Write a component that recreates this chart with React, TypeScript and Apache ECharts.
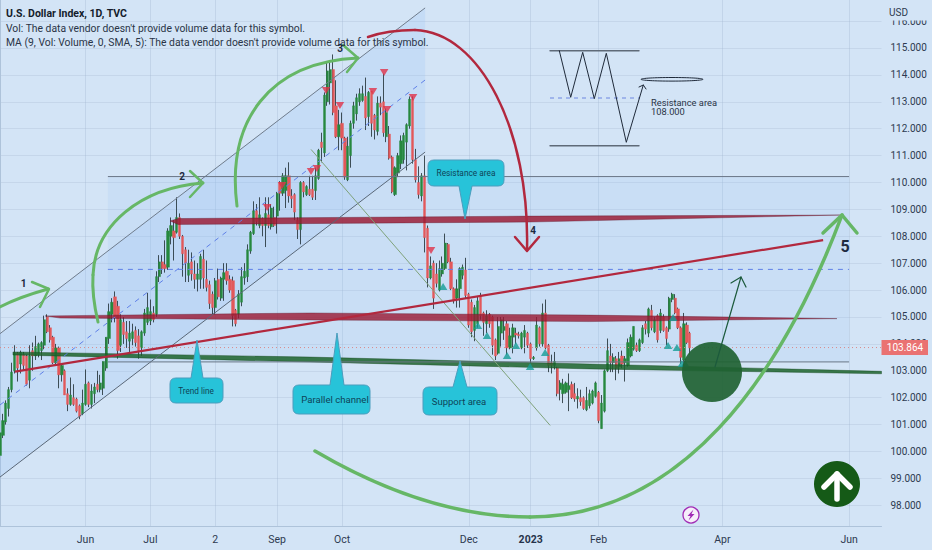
import React, { useEffect, useRef } from "react";
import * as echarts from "echarts";

// Daily candles as [open, close, low, high].
const barsA = [
[99.85,100.7,99.8,100.9],[100.6,101.15,100.5,101.4],[101.1,101.8,101.0,101.9],[101.6,102.3,101.3,102.4],[102.3,102.95,102.2,103.3],
[103.0,103.65,102.9,103.95],[103.65,103.1,102.6,103.7],[103.25,103.68,102.9,103.75],[103.6,103.2,103.0,103.7],[103.55,102.5,102.45,103.6],
[102.65,103.55,102.35,103.95],[103.75,103.55,103.0,104.05],[103.55,103.9,103.4,104.3],[103.6,104.0,103.5,104.05],[103.75,104.05,103.4,104.1],
[103.95,104.9,103.8,105.05],[105.0,104.45,104.4,105.1],[104.6,104.15,104.05,104.7],[104.25,103.3,103.25,104.3],[103.3,103.85,103.2,104.0],
[103.85,102.85,102.35,103.9],[102.85,103.2,102.6,103.25],[103.0,102.1,102.1,103.05],[102.15,101.75,101.5,102.35],[101.75,102.1,101.7,102.75],
[102.0,101.75,101.7,102.5],[101.95,101.5,101.45,102.0],[101.7,101.3,101.2,101.75],[101.4,101.8,101.35,102.3],[101.75,102.5,101.7,103.05],
[102.55,101.75,101.65,102.6],[101.75,102.25,101.6,102.5],[102.15,102.4,101.8,102.55],[102.5,102.3,102.2,103.0],[102.3,102.55,102.2,102.85],
[102.35,103.35,102.1,103.35],[103.1,104.25,103.0,104.25],[104.2,105.2,104.0,105.5],[105.1,105.55,104.8,105.7],[105.75,105.0,104.8,105.95],
[105.4,103.75,103.45,105.6],[103.95,104.9,103.7,105.1],[104.8,104.35,104.0,105.0],[104.45,104.2,103.85,104.85],[104.1,104.4,103.7,104.85],
[104.2,104.45,103.95,104.75],[104.5,104.05,103.9,104.65],[104.3,103.75,103.45,104.55],[103.85,104.45,103.55,104.5],[104.4,105.15,104.3,105.3],
];
const barsB = [
[104.8,105.35,104.7,105.9],[104.85,105.2,104.7,105.65],[105.15,104.9,104.8,105.4],[105.1,106.5,105.0,106.7],[106.5,107.05,106.3,107.3],
[107.05,106.8,106.6,107.3],[106.95,106.8,106.65,107.85],[106.85,108.2,106.75,108.3],[108.0,108.4,107.7,108.7],[108.2,107.95,107.1,108.6],
[108.15,108.7,108.1,109.45],[108.7,108.0,107.9,108.85],[108.0,107.35,106.5,108.05],[107.5,107.0,106.3,107.6],[106.55,107.0,106.3,107.5],
[107.05,106.6,106.35,107.4],[106.6,106.4,106.05,107.1],[106.4,106.6,105.95,107.0],[106.4,107.25,106.05,107.35],[107.15,106.45,106.05,107.5],
[106.4,106.1,105.95,107.1],[106.2,105.5,105.3,106.35],[105.85,105.35,105.1,105.95],[105.35,106.35,105.1,106.45],[106.4,105.75,105.65,106.8],
[105.7,106.45,105.6,106.5],[106.4,106.65,105.6,107.0],[106.7,106.35,106.2,107.0],[106.4,106.0,105.9,106.55],[106.35,105.05,104.65,106.5],
[105.25,104.75,104.65,105.3],[105.1,105.85,104.95,106.0],[105.55,106.5,105.4,106.85],[106.45,106.7,106.2,107.0],[106.5,107.5,106.3,107.7],
[107.45,108.15,107.35,108.2],[108.1,108.95,108.05,109.3],[108.95,108.55,108.4,109.2],[108.4,108.8,108.3,109.45],[108.65,108.4,108.0,108.7],
[108.4,108.85,107.6,109.45],[108.8,108.4,108.3,109.45],[108.35,109.05,108.25,109.2],[108.7,108.4,108.35,109.1],[108.75,109.6,108.1,109.65],
[110.0,109.6,108.95,110.05],[109.6,110.25,109.5,110.35],[109.7,110.25,109.05,110.55],[110.25,109.5,109.25,110.75],[109.5,109.4,109.05,109.75],
];
const barsC = [
[109.55,108.9,108.6,109.6],[108.6,108.25,107.9,108.7],[108.25,110.0,107.7,110.05],[110.0,109.65,109.45,110.05],[109.55,109.85,109.5,109.9],
[109.75,109.55,109.5,110.25],[109.75,109.45,109.35,110.25],[109.7,110.25,109.35,110.55],[110.15,111.2,110.1,111.25],[111.5,111.3,110.75,111.85],
[111.1,113.25,110.95,113.35],[113.0,114.15,112.85,114.45],[113.7,114.2,112.9,114.5],[114.2,112.6,112.5,114.76],[112.85,111.7,111.65,113.8],
[111.7,112.15,111.2,112.7],[112.2,111.65,111.2,112.6],[111.65,110.2,110.1,111.7],[110.1,111.35,110.05,111.7],[111.0,112.2,110.55,112.3],
[112.2,112.85,112.0,113.0],[112.55,113.15,112.3,113.3],[113.0,113.3,112.85,113.5],[113.05,113.3,113.0,113.6],[113.2,112.4,111.95,113.9],
[112.45,113.35,112.1,113.4],[113.4,112.2,111.7,113.4],[112.5,111.95,111.6,112.55],[111.9,112.95,111.75,113.2],[112.95,112.8,112.5,113.2],
[113.0,111.85,111.7,114.05],[111.7,112.6,111.5,112.75],[111.8,110.9,110.85,112.1],[110.95,109.65,109.6,111.0],[109.55,110.55,109.5,110.6],
[110.35,111.0,110.2,111.1],[110.7,111.55,110.5,111.75],[110.85,111.75,110.7,111.85],[111.5,112.15,110.45,112.2],[112.1,113.1,112.0,113.2],
[113.1,110.85,110.7,113.2],[110.85,110.1,110.0,111.25],[110.0,109.55,109.4,110.6],[109.5,110.25,109.3,110.35],[110.25,107.95,107.4,111.0],
[108.3,106.45,106.1,108.4],[106.45,106.9,106.4,107.25],[107.0,105.7,105.3,107.1],[106.6,106.25,106.1,107.0],[106.0,106.8,105.95,107.1],
];
const barsD = [
[106.6,107.0,106.5,107.25],[106.8,107.75,106.75,108.1],[107.7,107.05,107.0,107.75],[107.05,106.05,106.0,107.2],[106.05,105.6,105.5,106.1],
[105.7,106.05,105.35,106.4],[106.05,106.8,105.35,106.85],[106.55,106.85,106.4,106.95],[106.75,105.8,105.7,107.2],[105.85,104.7,104.6,105.9],
[105.55,104.45,104.25,105.65],[104.5,105.35,104.1,105.45],[104.75,105.6,104.6,105.75],[105.8,105.05,104.9,105.9],[105.15,104.8,104.3,105.2],
[104.75,105.05,104.4,105.25],[105.1,104.75,104.6,105.15],[105.0,103.95,103.6,105.05],[104.15,103.55,103.4,104.2],[103.65,104.65,103.6,105.0],
[104.4,104.9,103.9,105.0],[104.5,104.65,104.15,105.0],[104.75,103.85,103.6,104.85],[103.85,104.3,103.8,104.6],[104.25,104.6,103.65,104.75],
[104.4,104.33,104.0,104.6],[104.35,104.3,104.2,104.45],[103.85,104.4,103.8,104.45],[104.25,104.5,103.65,104.7],[104.4,103.95,103.85,104.45],
[104.0,103.45,103.3,104.05],[103.45,103.5,103.4,103.55],[103.85,104.7,103.75,105.0],[104.6,104.0,103.9,104.65],[104.0,105.15,103.9,105.5],
[105.15,103.85,103.8,105.65],[103.95,103.2,102.95,104.0],[103.3,103.2,102.9,103.6],[103.2,103.35,103.05,103.7],[103.1,102.15,102.05,103.15],
[102.3,102.55,101.9,102.65],[102.15,102.5,101.8,102.7],[102.2,102.55,102.15,102.6],[102.3,102.45,101.5,102.9],[102.5,102.0,101.95,102.6],
[102.15,101.95,101.85,102.55],[101.95,102.05,101.6,102.35],[102.0,101.85,101.7,102.3],[102.0,101.6,101.55,102.05],[101.55,101.9,101.5,102.4],
];
const barsE = [
[101.7,102.15,101.6,102.3],[101.8,102.25,101.75,102.3],[102.05,102.55,102.0,102.6],[102.2,101.15,101.05,102.25],[100.85,101.8,100.85,102.1],
[101.5,103.0,101.45,103.05],[103.0,103.75,102.95,104.2],[103.55,103.3,102.95,104.0],[103.3,103.5,102.95,103.65],[103.45,103.1,102.65,103.55],
[103.15,103.45,102.9,103.7],[103.55,103.25,103.1,103.75],[103.3,103.45,102.6,103.55],[103.2,104.05,103.15,104.2],[103.55,104.25,103.5,104.35],
[103.8,104.65,103.75,104.65],[103.95,103.75,103.7,104.05],[103.75,104.15,103.7,104.2],[104.05,104.6,104.0,104.7],[104.75,104.55,104.35,104.85],
[104.4,105.3,104.25,105.35],[105.25,104.6,104.5,105.45],[104.45,104.9,104.4,105.0],[105.05,104.15,104.05,105.1],[104.5,105.15,104.4,105.3],
[105.0,104.5,104.45,105.1],[104.6,104.2,103.95,104.65],[104.55,105.7,104.45,105.75],[105.65,105.85,105.55,105.9],[105.7,105.15,105.1,105.85],
[105.3,104.6,104.55,105.35],[104.6,103.5,103.25,104.65],[103.4,104.75,103.2,105.15],[104.7,104.05,104.0,104.8],[104.4,103.85,103.6,104.45],
];
const candles = [...barsA, ...barsB, ...barsC, ...barsD, ...barsE];

const barSlots = 300;
const lastPrice = 103.864;
const priceTicks = [98, 99, 100, 101, 102, 103, 104, 105, 106, 107, 108, 109, 110, 111, 112, 113, 114, 115, 116];
const timeTickBars = [29, 51, 73, 94, 116, 159, 180, 203, 245, 288];
const timeTickLabels = ["Jun", "Jul", "2", "Sep", "Oct", "Dec", "2023", "Feb", "Apr", "Jun"];

const sellSignals = [[90.6,109.07],[95.7,109.89],[105.5,110.41],[107.5,110.52],[110.6,113.42],[115.3,112.86],[126.5,113.38],[130.3,114.09],[131.3,112.71],[140.1,113.16],[146.2,107.47]];
const buySignals = [[150.3,106.13],[162.1,104.68],[165.2,104.31],[172,103.57],[175,103.94],[179.8,103.16],[184.9,103.68],[226.6,103.94],[228.3,104.98],[229.6,103.87],[231.3,103.27],[232.4,103.27]];

// Drawings in [bar, price]
const channelFill = [[0,104.38],[144.2,116.49],[144.2,111.13],[0,99.05]];
const channelUpper = [[0,104.38],[144.2,116.49]];
const channelMid = [[0,101.73],[144.2,113.81]];
const channelLower = [[0,99.05],[144.2,111.13]];
const fibFill = [[36.6,110.22],[288,110.22],[288,103.33],[36.6,103.33]];
const fibTop = [[36.6,110.22],[288,110.22]];
const fibMid = [[36.6,106.77],[288,106.77]];
const fibBottom = [[36.6,103.33],[288,103.33]];
const resistanceBand = [[57.7,108.57],[60.4,108.66],[179.8,108.75],[284.9,108.79],[179.8,108.53],[60.4,108.44]];
const midBand = [[15.3,105.04],[105.2,105.15],[200.1,105.07],[283.9,104.94],[200.1,104.83],[105.2,104.89],[20.4,104.96]];
const supportBand = [[4.4,103.70],[105.2,103.51],[200.1,103.25],[299,102.98],[299,102.89],[200.1,103.07],[105.2,103.33],[4.4,103.59]];
const trendLine = [[5.1,102.97],[279.2,107.86]];
const diagonalLine = [[105.5,111.23],[186.6,100.97]];
const lastPriceLine = [[0,lastPrice],[299,lastPrice]];

const callout = (x0: number, y0: number, x1: number, y1: number, tipX: number, tipY: number, b0: number, b1: number) => {
  const r = 6;
  if (tipY < y0) {
    return `M${x0 + r} ${y0}L${b0} ${y0}L${tipX} ${tipY}L${b1} ${y0}L${x1 - r} ${y0}Q${x1} ${y0} ${x1} ${y0 + r}L${x1} ${y1 - r}Q${x1} ${y1} ${x1 - r} ${y1}L${x0 + r} ${y1}Q${x0} ${y1} ${x0} ${y1 - r}L${x0} ${y0 + r}Q${x0} ${y0} ${x0 + r} ${y0}Z`;
  }
  return `M${x0 + r} ${y0}L${x1 - r} ${y0}Q${x1} ${y0} ${x1} ${y0 + r}L${x1} ${y1 - r}Q${x1} ${y1} ${x1 - r} ${y1}L${b1} ${y1}L${tipX} ${tipY}L${b0} ${y1}L${x0 + r} ${y1}Q${x0} ${y1} ${x0} ${y1 - r}L${x0} ${y0 + r}Q${x0} ${y0} ${x0 + r} ${y0}Z`;
};
echarts.graphic.registerShape("calloutTrend", echarts.graphic.extendPath(callout(170, 378, 223, 403, 197, 340, 191, 203), {}));
echarts.graphic.registerShape("calloutChannel", echarts.graphic.extendPath(callout(293, 385, 370, 414, 337, 333, 330, 344), {}));
echarts.graphic.registerShape("calloutSupport", echarts.graphic.extendPath(callout(423, 387, 497, 415, 460, 361, 453, 467), {}));
echarts.graphic.registerShape("calloutResistance", echarts.graphic.extendPath(callout(428, 160, 504, 186, 465, 219, 459, 472), {}));

const FONT = "Roboto, 'Noto Sans', sans-serif";
const BRUSH = "#66b766";
const CRED = "#b2283e";

const shape = (kind: string, pts: number[][], style: any, z: number) => ({
  type: "custom",
  coordinateSystem: "cartesian2d",
  xAxisIndex: 1,
  yAxisIndex: 0,
  silent: true,
  clip: true,
  z,
  data: [[pts[0][0], pts[0][1]]],
  renderItem: (_p: any, api: any) => ({
    type: kind,
    shape: { points: pts.map((pt) => api.coord(pt)) },
    style,
  }),
});

const stroke = (color: string, lineWidth: number) => ({ stroke: color, lineWidth, fill: "none", lineCap: "round", lineJoin: "round" });
const brush = (points: number[][], lineWidth = 3, color = BRUSH, z = 60) => ({
  type: "polyline", z, silent: true,
  shape: { points },
  style: stroke(color, lineWidth),
});
const curve = (p: number[], lineWidth = 3, color = BRUSH) => ({
  type: "bezierCurve", z: 60, silent: true,
  shape: { x1: p[0], y1: p[1], cpx1: p[2], cpy1: p[3], cpx2: p[4], cpy2: p[5], x2: p[6], y2: p[7] },
  style: stroke(color, lineWidth),
});
const label = (text: string, x: number, y: number, font: string, fill = "#1d2a3f", align = "left") => ({
  type: "text", z: 70, silent: true, x, y,
  style: { text, font, fill, textAlign: align, textVerticalAlign: "middle" },
});
const box = (type: string, text: string, tx: number, ty: number, size: number) => [
  { type, z: 62, silent: true, style: { fill: "#27c3d9", stroke: "#4b9dbd", lineWidth: 1 } },
  label(text, tx, ty, `${size}px ${FONT}`, "#0e4358", "center"),
];

export default function App() {
  const ref = useRef<HTMLDivElement>(null);
  useEffect(() => {
    document.body.style.margin = "0";
    const chart = echarts.init(ref.current!, undefined, { renderer: "svg" });
    const categories = Array.from({ length: barSlots }, (_, i) => String(i));
    const tickAt = (i: number) => timeTickBars.indexOf(i) >= 0;
    chart.setOption({
      animation: false,
      backgroundColor: "#d3e4f6",
      grid: { left: 0, right: 50.5, top: 0, bottom: 23.5 },
      xAxis: [
        {
          type: "category", data: categories, boundaryGap: false,
          axisLine: { lineStyle: { color: "#aec3da", width: 1 } },
          axisTick: { show: false },
          axisLabel: {
            interval: (i: number) => tickAt(i),
            formatter: (_v: string, i: number) => {
              const t = timeTickLabels[timeTickBars.indexOf(i)];
              return t === "2023" ? `{b|${t}}` : t;
            },
            rich: { b: { fontWeight: "bold", fontSize: 10.5, fontFamily: FONT, color: "#26334a" } },
            color: "#2d3a50", fontSize: 10.5, fontFamily: FONT, margin: 7,
          },
          splitLine: { show: true, interval: (i: number) => tickAt(i), lineStyle: { color: "rgba(160,180,205,0.32)", width: 1 } },
        },
        { type: "value", min: 0, max: barSlots - 1, show: false },
      ],
      yAxis: {
        type: "value", position: "right", min: 97.212, max: 116.784, scale: true,
        axisLine: { show: true, lineStyle: { color: "#aec3da", width: 1 } },
        axisTick: { show: false, customValues: priceTicks },
        axisLabel: {
          customValues: priceTicks,
          formatter: (v: number) => v.toFixed(3),
          color: "#2d3a50", fontSize: 10, fontFamily: FONT, margin: 9,
        },
        splitLine: { show: true, lineStyle: { color: "rgba(160,180,205,0.28)", width: 1 } },
      },
      series: [
        shape("polygon", fibFill, { fill: "rgba(150,190,245,0.16)" }, 1),
        shape("polygon", channelFill, { fill: "rgba(150,190,245,0.22)" }, 1),
        {
          type: "candlestick", data: candles, barWidth: 1, z: 3, silent: true,
          itemStyle: { color: "#25343a", color0: "#25343a", borderColor: "#25343a", borderColor0: "#25343a", borderColorDoji: "#25343a", borderWidth: 1, opacity: 0.85 },
        },
        {
          type: "candlestick",
          data: candles.map(([o, c]) => [o, c, Math.min(o, c), Math.max(o, c)]),
          barWidth: 2.7, z: 4, silent: true,
          itemStyle: { color: "#26883e", color0: "#e2585a", borderColor: "#26883e", borderColor0: "#e2585a", borderColorDoji: "#e2585a", borderWidth: 0.4 },
        },
        shape("polygon", resistanceBand, { fill: "rgba(155,24,50,0.82)", stroke: "rgba(90,20,40,0.6)", lineWidth: 0.6 }, 5),
        shape("polygon", midBand, { fill: "rgba(155,24,50,0.8)", stroke: "rgba(90,20,40,0.6)", lineWidth: 0.6 }, 5),
        shape("polygon", supportBand, { fill: "rgba(28,100,44,0.85)", stroke: "rgba(20,70,30,0.7)", lineWidth: 0.6 }, 5),
        shape("polyline", channelUpper, { stroke: "#6f7c8c", lineWidth: 1, fill: "none" }, 6),
        shape("polyline", channelLower, { stroke: "#5a6878", lineWidth: 1, fill: "none" }, 6),
        shape("polyline", channelMid, { stroke: "#5f80e8", lineWidth: 1, lineDash: [5, 5], fill: "none" }, 6),
        shape("polyline", fibTop, { stroke: "#6a7686", lineWidth: 1, fill: "none" }, 6),
        shape("polyline", fibMid, { stroke: "#5f80e8", lineWidth: 1, lineDash: [5, 5], fill: "none" }, 6),
        shape("polyline", fibBottom, { stroke: "#6a7686", lineWidth: 1, fill: "none" }, 6),
        shape("polyline", trendLine, { stroke: CRED, lineWidth: 2.2, fill: "none" }, 7),
        shape("polyline", diagonalLine, { stroke: "#7fa27a", lineWidth: 1, fill: "none" }, 6),
        shape("polyline", lastPriceLine, { stroke: "#d98a8a", lineWidth: 1, lineDash: [1, 3], fill: "none" }, 6),
        {
          type: "scatter", xAxisIndex: 1, yAxisIndex: 0, data: sellSignals, symbol: "triangle", symbolRotate: 180,
          symbolSize: [8.5, 7], itemStyle: { color: "#e0324a" }, z: 8, silent: true,
        },
        {
          type: "scatter", xAxisIndex: 1, yAxisIndex: 0, data: buySignals, symbol: "triangle",
          symbolSize: [8.5, 7], itemStyle: { color: "#159c96" }, z: 8, silent: true,
        },
      ],
      graphic: [
        // axis header mask and currency
        { type: "rect", z: 50, silent: true, shape: { x: 882.5, y: 0, width: 50, height: 20.5 }, style: { fill: "#d3e4f6" } },
        label("USD", 889, 12, `10px ${FONT}`, "#2d3a50"),
        // legend
        label("U.S. Dollar Index, 1D, TVC", 6, 13.5, `bold 10.5px ${FONT}`, "#141c2c"),
        label("Vol: The data vendor doesn't provide volume data for this symbol.", 6, 28, `10.35px ${FONT}`, "#2a3446"),
        label("MA (9, Vol: Volume, 0, SMA, 5): The data vendor doesn't provide volume data for this symbol.", 6, 42, `10.35px ${FONT}`, "#2a3446"),
        // wave counts
        label("1", 23.5, 283, `bold 10px ${FONT}`, "#1d2a3f", "center"),
        label("2", 182, 176, `bold 10px ${FONT}`, "#1d2a3f", "center"),
        label("3", 340, 48, `bold 10px ${FONT}`, "#1d2a3f", "center"),
        label("4", 533, 230, `bold 10px ${FONT}`, "#1d2a3f", "center"),
        label("5", 845, 246, `bold 16px ${FONT}`, "#1d2a3f", "center"),
        // green freehand arcs
        curve([-6, 310, 12, 300, 30, 294, 48, 289]),
        brush([[32, 282], [49, 289], [40, 307]], 2.5),
        curve([98, 322, 94, 305, 92, 290, 93, 275]),
        curve([93, 275, 95, 225, 140, 188, 203, 183]),
        brush([[190, 171], [203, 183], [190, 197]], 2.5),
        curve([237, 206, 226, 120, 270, 62, 358, 58]),
        brush([[343, 45], [358, 58], [347, 72]], 2.5),
        curve([315, 451, 390, 495, 460, 517, 530, 517], 3.5),
        curve([530, 517, 680, 517, 780, 380, 842, 215], 3.5),
        brush([[823, 233], [842, 215], [857, 233]], 3.5),
        // red curved arrow
        curve([368, 37, 385, 31, 400, 30, 415, 30], 2.5, CRED),
        curve([415, 30, 480, 32, 530, 130, 527, 250], 2.5, CRED),
        brush([[515, 237], [527, 251], [539, 237]], 2.5, CRED),
        // green circle and its arrow
        { type: "circle", z: 55, silent: true, shape: { cx: 712, cy: 372, r: 30 }, style: { fill: "rgba(32,98,50,0.92)" } },
        brush([[715, 367], [741, 277]], 1.2, "#1c5a3c"),
        brush([[731, 283], [741, 277], [746, 287]], 1.2, "#1c5a3c"),
        // callouts
        ...box("calloutTrend", "Trend line", 196, 390.5, 8.2),
        ...box("calloutChannel", "Parallel channel", 335, 399, 9.6),
        ...box("calloutSupport", "Support area", 459, 401, 9.5),
        ...box("calloutResistance", "Resistance area", 466, 172.5, 8.3),
        // pattern sketch
        brush([[550, 50.7], [639, 50.7]], 1.4, "#5f6a78"),
        brush([[550, 145.7], [639, 145.7]], 1.4, "#5f6a78"),
        { type: "line", z: 60, silent: true, shape: { x1: 550, y1: 98, x2: 640, y2: 98 }, style: { stroke: "#6d86e0", lineWidth: 1, lineDash: [4, 4] } },
        brush([[559.3, 50.7], [570.7, 97.3], [582.7, 52.3], [594.3, 98.7], [606.3, 53.3], [626.3, 142.3], [643.3, 85]], 1, "#1f2a3a"),
        brush([[639, 87], [643.3, 85], [646, 89]], 1, "#1f2a3a"),
        { type: "ellipse", z: 60, silent: true, shape: { cx: 672, cy: 79.3, rx: 31, ry: 1.8 }, style: { fill: "none", stroke: "#1f2a3a", lineWidth: 1 } },
        label("Resistance area", 651, 102, `9.3px ${FONT}`, "#2a3446"),
        label("108.000", 651, 111.5, `9.3px ${FONT}`, "#2a3446"),
        // round badge
        { type: "circle", z: 62, silent: true, shape: { cx: 837, cy: 484, r: 23 }, style: { fill: "#155a17" } },
        brush([[837, 499], [837, 474]], 5.5, "#ffffff", 64),
        brush([[824, 487], [837, 474], [850, 487]], 5.5, "#ffffff", 64),
        // bolt badge
        { type: "circle", z: 62, silent: true, shape: { cx: 691, cy: 515, r: 8 }, style: { fill: "#f6eefa", stroke: "#a02bb5", lineWidth: 1.3 } },
        { type: "polygon", z: 63, silent: true, shape: { points: [[693.5, 509.5], [687.5, 516], [690.5, 516], [688.5, 520.5], [694.5, 514], [691.5, 514]] }, style: { fill: "#a02bb5" } },
        // last price tag
        { type: "rect", z: 65, silent: true, shape: { x: 881.5, y: 340, width: 46.5, height: 15 }, style: { fill: "#ea7272" } },
        label(lastPrice.toFixed(3), 905, 347.8, `10px ${FONT}`, "#ffffff", "center"),
      ],
    });
    return () => chart.dispose();
  }, []);
  return <div ref={ref} style={{ width: 932, height: 550 }} />;
}
